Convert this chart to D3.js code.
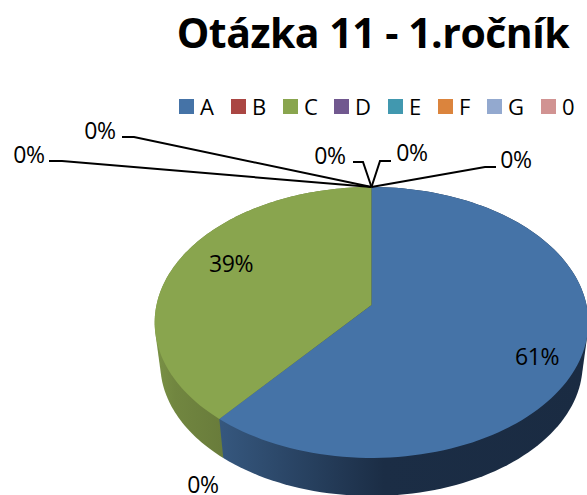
<!DOCTYPE html>
<html><head><meta charset="utf-8">
<script src="https://cdn.jsdelivr.net/npm/d3@7"></script>
<style>html,body{margin:0;padding:0;background:#fff}svg{display:block}text{font-family:"Open Sans",sans-serif;fill:#000}</style>
</head><body><svg id="c" width="587" height="495"></svg>
<script>
const titleText = "Otázka 11 - 1.ročník";
const categories = ["A","B","C","D","E","F","G","0"];
const values = [61,0,39,0,0,0,0,0];
const colors = ["#4573a7","#aa4643","#89a54e","#71588f","#4198af","#db843d","#93a9cf","#d19392"];
const legendX = [179,231,283,334,388,438,487,541];
// label placement for each category: text centre, and elbow start/end of leader (none for large or bottom labels)
const labelPos = [[537,357],[203,485],[231,264],[29,155],[100,131],[330,156],[412,153],[516,160]];
const leaderElbow = [null,null,null,[[49,161],[62,161]],[[122,137],[134,137]],[[353,162],[363,162]],[[391,161],[380,161]],[[496,167],[485,167]]];

const svg = d3.select("#c");
const cx = 371.5, cy = 305, B = 215, A = 133.2, persp = -0.129, depth = 42, shrink = 0.974;
function topPt(theta){
  const u = Math.sin(theta), v = -Math.cos(theta), w = 1 + persp*v;
  return [cx + B*u/w, cy + A*v/w];
}
function bottomPt(theta){
  const p = topPt(theta);
  return [cx + (p[0]-cx)*shrink, cy + (p[1]-cy)*shrink + depth];
}
const arcs = d3.pie().value(d=>d).sort(null)(values);
const line = d3.line();
const samples = a => d3.range(0,121).map(i => a.startAngle + (a.endAngle-a.startAngle)*i/120);

const defs = svg.append("defs");
function grad(id,x1,x2,stops){
  const g = defs.append("linearGradient").attr("id",id).attr("gradientUnits","userSpaceOnUse")
    .attr("x1",x1).attr("x2",x2).attr("y1",0).attr("y2",0);
  stops.forEach(s=>g.append("stop").attr("offset",s[0]).attr("stop-color",s[1]));
}
grad("wall0",218,587,[[0,"#36587f"],[0.45,"#1b2d45"],[1,"#1a2b42"]]);
grad("wall2",155,222,[[0,"#7a9246"],[0.3,"#718640"],[1,"#697c3b"]]);

// side walls: silhouette of each slice's rim and its lower rim; later slices first so the first slice's wall stays in front
arcs.slice().reverse().forEach(a=>{
  if(a.value<=0) return;
  const s = samples(a);
  const hull = d3.polygonHull(s.map(topPt).concat(s.map(bottomPt)));
  svg.append("path").attr("d", line(hull)+"Z").attr("fill", `url(#wall${a.index})`);
});
// top faces
arcs.forEach((a,i)=>{
  if(a.value<=0) return;
  const pts = [[cx,cy]].concat(samples(a).map(topPt));
  svg.append("path").attr("d", line(pts)+"Z").attr("fill", colors[i]);
});
// leader lines
arcs.forEach((a,i)=>{
  if(!leaderElbow[i]) return;
  svg.append("path")
    .attr("d", line(leaderElbow[i].concat([topPt(a.startAngle)])))
    .attr("fill","none").attr("stroke","#000").attr("stroke-width",2);
});
// labels
arcs.forEach((a,i)=>{
  svg.append("text").attr("x",labelPos[i][0]).attr("y",labelPos[i][1]+8)
    .attr("text-anchor","middle").attr("font-size",23).attr("letter-spacing",-0.4)
    .text(Math.round(a.value)+"%");
});
// legend
categories.forEach((c,i)=>{
  svg.append("rect").attr("x",legendX[i]).attr("y",99).attr("width",15).attr("height",15).attr("fill",colors[i]);
  svg.append("text").attr("x",legendX[i]+21).attr("y",115).attr("font-size",22).text(c);
});
// title
svg.append("text").attr("x",373).attr("y",48).attr("text-anchor","middle")
  .attr("font-size",41).attr("font-weight",700).attr("letter-spacing",-0.5).text(titleText);
</script></body></html>
